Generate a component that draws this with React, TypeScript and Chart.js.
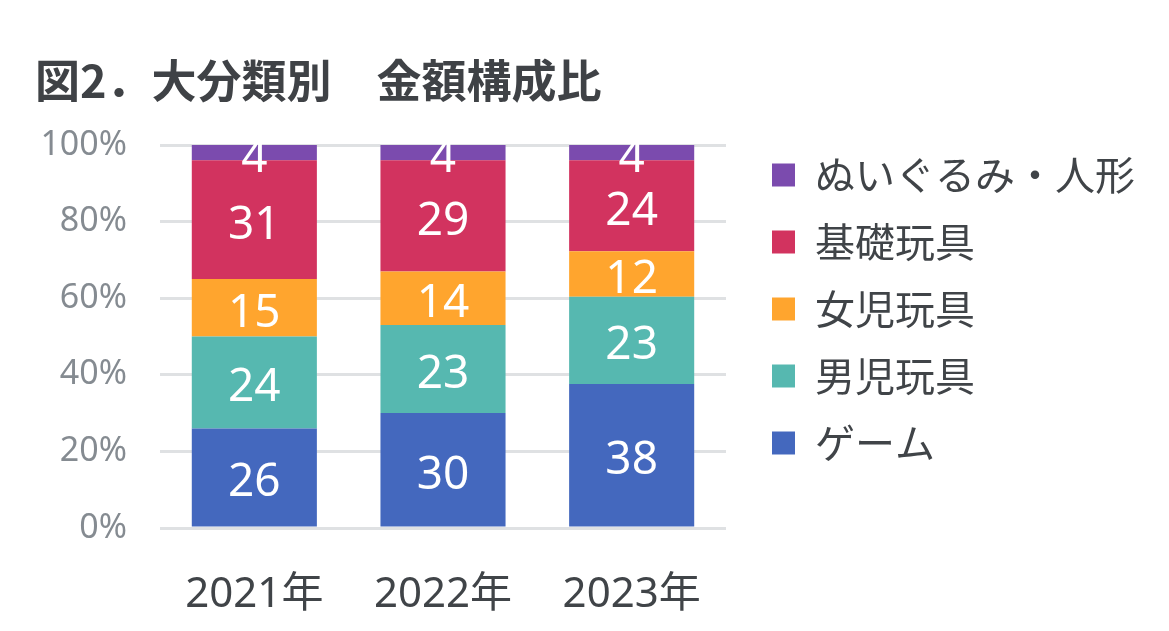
import { Chart, ChartConfiguration, Plugin, registerables } from "chart.js";
import React, { useEffect, useRef } from "react";

Chart.register(...registerables);

// categories and series (values as printed on the bars, %)
const categories = ["2021年", "2022年", "2023年"];
const seriesNames = ["ゲーム", "男児玩具", "女児玩具", "基礎玩具", "ぬいぐるみ・人形"];
const gameValues = [26, 30, 38];
const boysValues = [24, 23, 23];
const girlsValues = [15, 14, 12];
const basicValues = [31, 29, 24];
const plushValues = [4, 4, 4];
const seriesColors = ["#4468BE", "#56B8B0", "#FFA52E", "#D2335F", "#7B4BAE"];
const yTickStep = 20;
const titleText = "図2．大分類別　金額構成比";

const FONT = "'Noto Sans', 'Noto Sans CJK JP', sans-serif";
const CJK = "'Noto Sans CJK JP', 'Noto Sans', sans-serif";

const allSeries = [gameValues, boysValues, girlsValues, basicValues, plushValues];

// 100% stacked: every column is scaled to its own total
const totals = categories.map((_, i) =>
  allSeries.reduce((sum, s) => sum + s[i], 0));

// white value labels in the middle of each segment
const segmentLabels: Plugin<"bar"> = {
  id: "segmentLabels",
  afterDatasetsDraw(chart) {
    const ctx = chart.ctx;
    ctx.save();
    ctx.fillStyle = "#ffffff";
    ctx.font = `46px ${FONT}`;
    ctx.textAlign = "center";
    ctx.textBaseline = "alphabetic";
    chart.data.datasets.forEach((ds, di) => {
      const meta = chart.getDatasetMeta(di);
      meta.data.forEach((el: any, i) => {
        const raw = allSeries[di][i];
        // baseline a bit below the middle so the digits sit centred
        const y = (el.y + el.base) / 2 + 19;
        ctx.fillText(String(raw), el.x, y);
      });
    });
    ctx.restore();
  },
};

function configOf(): ChartConfiguration<"bar"> {
  const datasets = seriesNames.map((name, si) => ({
    label: name,
    data: allSeries[si].map((v, i) => (v / totals[i]) * 100),
    backgroundColor: seriesColors[si],
    borderWidth: 0,
    categoryPercentage: 1,
    barPercentage: 0.663,
  }));

  return {
    type: "bar",
    data: { labels: categories, datasets },
    options: {
      responsive: false,
      animation: false,
      devicePixelRatio: 1,
      layout: { padding: { left: 35, top: 0, right: 24, bottom: 13 } },
      scales: {
        x: {
          stacked: true,
          afterFit: (s: any) => { s.height = 90; },
          grid: { display: false, drawTicks: false },
          border: { display: false },
          ticks: {
            color: "#404448",
            font: { family: FONT, size: 42 },
            padding: 42,
            maxRotation: 0,
            minRotation: 0,
            autoSkip: false,
          },
        },
        y: {
          stacked: true,
          min: 0,
          max: 100,
          afterFit: (s: any) => { s.width = 125; },
          grid: { color: "#dfe1e3", lineWidth: 3, drawTicks: false },
          border: { display: false },
          ticks: {
            stepSize: yTickStep,
            color: "#858b91",
            font: { family: FONT, size: 34 },
            padding: 33,
            callback: (v) => `${v}%`,
          },
        },
        gap: {
          position: "right",
          display: true,
          afterFit: (s: any) => { s.width = 19; },
          grid: { display: false, drawTicks: false },
          border: { display: false },
          ticks: { display: false },
        },
      },
      plugins: {
        title: {
          display: true,
          text: titleText,
          align: "start",
          color: "#3f4246",
          font: { family: CJK, size: 45, weight: "bold" },
          padding: { top: 54, bottom: 37 },
        },
        legend: {
          position: "right",
          reverse: true,
          maxWidth: 500,
          labels: {
            boxWidth: 23,
            boxHeight: 23,
            padding: 27,
            color: "#404448",
            font: { family: CJK, size: 40 },
          },
        },
        tooltip: { enabled: false },
      },
    },
    plugins: [segmentLabels],
  };
}

export default function App() {
  const canvas = useRef<HTMLCanvasElement>(null);
  useEffect(() => {
    const context2d = canvas.current?.getContext("2d");
    const chart = context2d ? new Chart(context2d, configOf()) : null;
    return () => chart?.destroy();
  });

  return (
    <div style={{ position: "fixed", left: 0, top: 0, width: 1169, height: 631, background: "#fff" }}>
      <canvas ref={canvas} width={1169} height={631} />
    </div>
  );
}
